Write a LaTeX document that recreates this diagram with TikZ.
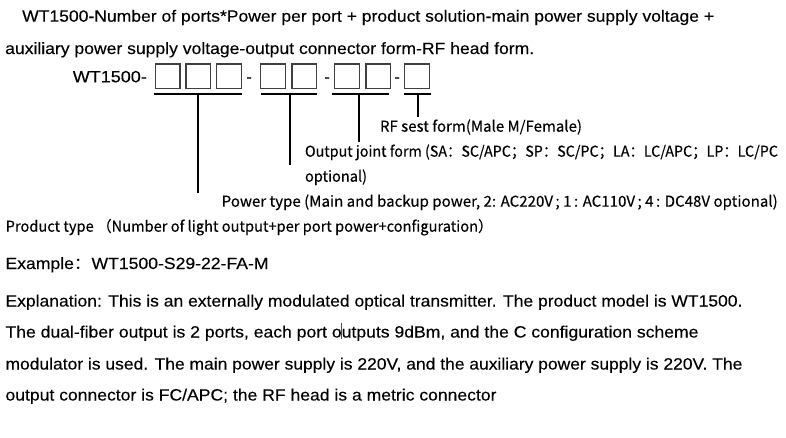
\documentclass[tikz,border=0pt]{standalone}
\usepackage{fontspec}
\usepackage{graphicx}
\setmainfont{Liberation Sans}
\newfontfamily\arialb[FakeBold=0.2]{Liberation Sans}
\newfontfamily\cjk[FakeBold=0.25]{Noto Sans CJK SC}
\newfontfamily\cjkp{Noto Sans CJK SC}
\newcommand\fitw[2]{\resizebox{#1}{\height}{#2}}
\tikzset{
  txt/.style={anchor=base west, inner sep=0pt, outer sep=0pt, font=\arialb\fontsize{16.3}{18}\selectfont},
  par/.style={anchor=base west, inner sep=0pt, outer sep=0pt, font=\arialb\fontsize{16.3}{19}\selectfont},
  lbl/.style={anchor=base west, inner sep=0pt, outer sep=0pt, font=\cjk\fontsize{15}{16}\selectfont},
  cell/.style={draw=black!75, line width=1.4pt, minimum width=24.8pt, minimum height=24.8pt, inner sep=0pt},
  uline/.style={line width=2pt, black},
  vline/.style={line width=2pt, black},
}
\begin{document}
\begin{tikzpicture}[x=1pt,y=-1pt]
\useasboundingbox (0,0) rectangle (786,437);
\fill[white] (0,0) rectangle (786,437);
% title
\node[txt] (t1) at (22.2,21.7) {\fitw{692pt}{WT1500-Number of ports*Power per port + product solution-main power supply voltage +}};
\node[txt] (t2) at (5.2,54) {\fitw{529pt}{auxiliary power supply voltage-output connector form-RF head form.}};
\node[txt] (wt) at (72.8,82.3) {\fitw{74pt}{WT1500-}};
% cells
\node[cell] (b1) at (167.7,76.3) {};
\node[cell] (b2) at (198.3,76.3) {};
\node[cell] (b3) at (228.9,76.3) {};
\node[txt] (d1) at (246.3,82.3) {-};
\node[cell] (b4) at (273.0,76.3) {};
\node[cell] (b5) at (304.2,76.3) {};
\node[txt] (d2) at (324.3,82.3) {-};
\node[cell] (b6) at (347.0,76.3) {};
\node[cell] (b7) at (378.2,76.3) {};
\node[txt] (d3) at (394.3,82.3) {-};
\node[cell] (b8) at (417.0,76.3) {};
% underlines
\coordinate (u1a) at (154,94); \coordinate (u1b) at (241.7,94);
\coordinate (u2a) at (261,94); \coordinate (u2b) at (316.7,94);
\coordinate (u3a) at (332.3,94); \coordinate (u3b) at (389,94);
\coordinate (u4a) at (404.3,94); \coordinate (u4b) at (431,94);
\draw[uline] (u1a) -- (u1b);
\draw[uline] (u2a) -- (u2b);
\draw[uline] (u3a) -- (u3b);
\draw[uline] (u4a) -- (u4b);
% verticals
\coordinate (v1t) at (198.3,94); \coordinate (v1b) at (198.3,193.3);
\coordinate (v2t) at (290,94);   \coordinate (v2b) at (290,165);
\coordinate (v3t) at (359.3,94); \coordinate (v3b) at (359.3,141.7);
\coordinate (v4t) at (418.3,94); \coordinate (v4b) at (418.3,116.7);
\draw[vline] (v1t) -- (v1b);
\draw[vline] (v2t) -- (v2b);
\draw[vline] (v3t) -- (v3b);
\draw[vline] (v4t) -- (v4b);
% labels
\node[lbl] (rf) at (380,131.7) {\fitw{202pt}{RF sest form(Male M/Female)}};
\node[lbl] (oj) at (305,156.7) {\fitw{473pt}{Output joint form (SA：SC/APC；SP：SC/PC；LA：LC/APC；LP：LC/PC}};
\node[lbl] (op) at (305,181.7) {\fitw{62pt}{optional)}};
\node[lbl] (pw) at (221.7,206.7) {\fitw{556pt}{Power type (Main and backup power, 2: AC220V\,; 1\,: AC110V\,; 4\,: DC48V optional)}};
\node[lbl] (pt) at (5.7,231.7) {\fitw{487pt}{Product type （Number of light output+per port power+configuration）}};
% example and explanation
\node[par] (ex) at (5.5,269) {\fitw{263pt}{Example{\cjkp ：}WT1500-S29-22-FA-M}};
\node[par] (e1) at (5.5,306.5) {\fitw{737pt}{Explanation: This is an externally modulated optical transmitter. The product model is WT1500.}};
\node[par] (e2) at (5.5,337.5) {\fitw{693pt}{The dual-fiber output is 2 ports, each port outputs 9dBm, and the C configuration scheme}};
\node[par] (e3) at (5.5,369.5) {\fitw{737pt}{modulator is used. The main power supply is 220V, and the auxiliary power supply is 220V. The}};
\node[par] (e4) at (5.5,400.5) {\fitw{491pt}{output connector is FC/APC; the RF head is a metric connector}};
% text cursor mark
\coordinate (c1) at (341.3,323.3); \coordinate (c2) at (341.3,339.3);
\draw[line width=0.8pt, black!70] (c1) -- (c2);
\end{tikzpicture}
\end{document}
